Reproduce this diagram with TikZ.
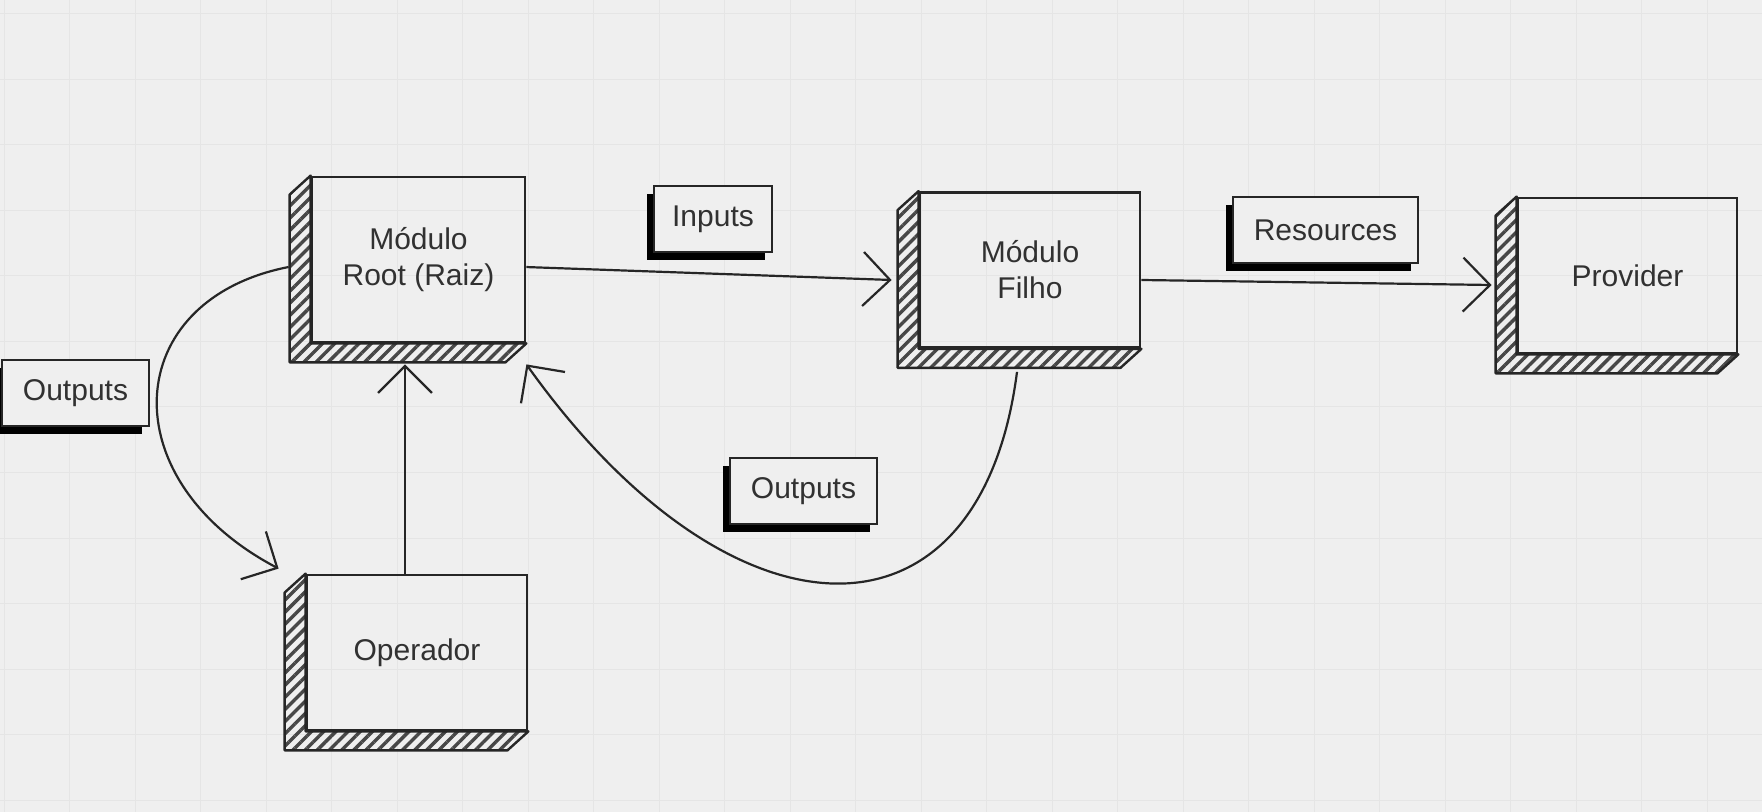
\documentclass[tikz,border=0pt]{standalone}
\usepackage{fontspec}
\setmainfont{Liberation Sans}
\usetikzlibrary{arrows.meta,positioning,shadows,patterns.meta}
\definecolor{paper}{HTML}{EFEFEF}
\definecolor{gridgray}{HTML}{E5E5E5}
\definecolor{ink}{HTML}{262626}

\begin{document}
\begin{tikzpicture}[x=0.5pt,y=-0.5pt,>={Straight Barb[length=13.5pt,width=27pt]},
font=\fontsize{15pt}{18pt}\selectfont, text=ink!95]
\tikzset{
	module/.style={
		rectangle,
		draw=ink,
		line width=1.4pt,
		minimum width=110pt,
		minimum height=77.5pt,
		inner sep=0pt,
		align=center
	},
	hatchside/.style={draw=ink, line width=1.2pt, line join=round,
		pattern={Lines[angle=45,distance=4.3pt,line width=1.7pt]}, pattern color=ink!85},
	tag/.style={rectangle, draw=ink, line width=1pt, fill=paper,
		minimum height=33pt, inner sep=0pt,
		drop shadow={shadow xshift=-3.5pt, shadow yshift=-4pt, fill=black, opacity=1}},
	flow/.style={->, draw=ink, line width=1.1pt},
	gridline/.style={draw=gridgray, line width=0.5pt}
}

\useasboundingbox (0,0) rectangle (1762,812);
\fill[paper] (0,0) rectangle (1762,812);
\foreach \gx in {4,69.5,...,1762} \draw[gridline] (\gx,0) -- (\gx,812);
\foreach \gy in {14,79.5,...,812} \draw[gridline] (0,\gy) -- (1762,\gy);

%modules
\node[module, minimum width=106.5pt, minimum height=82.5pt] (Root) at (418.5,259.5) {Módulo\\Root (Raiz)};
\node[module, right of=Root, node distance=305.75pt, yshift=-5.25pt] (Filho) {Módulo\\Filho};
\node[module, minimum width=109.5pt, right of=Filho, node distance=298.75pt, yshift=-2.75pt] (Provider) {Provider};
\node[module, below of=Root, node distance=196.5pt, xshift=-0.75pt] (Operador) {Operador};

\foreach \n in {Root,Filho,Provider,Operador}
	\draw[hatchside] (\n.north west) -- ++(-21,19) |- ([xshift=-10.5pt,yshift=-9.5pt]\n.south east)
	-- (\n.south east) -- (\n.south west) -- cycle;

%forward
\draw[flow] (Root.-4.5) -- ([xshift=-13.5pt,yshift=-5pt]Filho.west);
\draw[flow] ([yshift=-5pt]Filho.east) -- ([xshift=-12.5pt,yshift=-4.75pt]Provider.west);
\draw[flow] ([xshift=-6pt]Operador.north) -- ([xshift=-6.75pt,yshift=-10.5pt]Root.south);

%back
\draw[flow] ([xshift=-11pt,yshift=-3.75pt]Root.west) .. controls (120,300) and (110,480) .. ([xshift=-13.5pt,yshift=2.5pt]Operador.north west);
\draw[flow] ([xshift=-6.5pt,yshift=-11.5pt]Filho.south) .. controls (980,660) and (730,650) .. ([yshift=-10.5pt]Root.south east);

%---------------- tags ------------
\node[tag, minimum width=59pt] (inputs) at (713,219.5) {Inputs};
\node[tag, minimum width=92.5pt] (resources) at (1325.5,230) {Resources};
\node[tag, minimum width=73.5pt] (outA) at (803.5,491.5) {Outputs};
\node[tag, minimum width=73.5pt] (outB) at (75.5,393) {Outputs};

\end{tikzpicture}
\end{document}
